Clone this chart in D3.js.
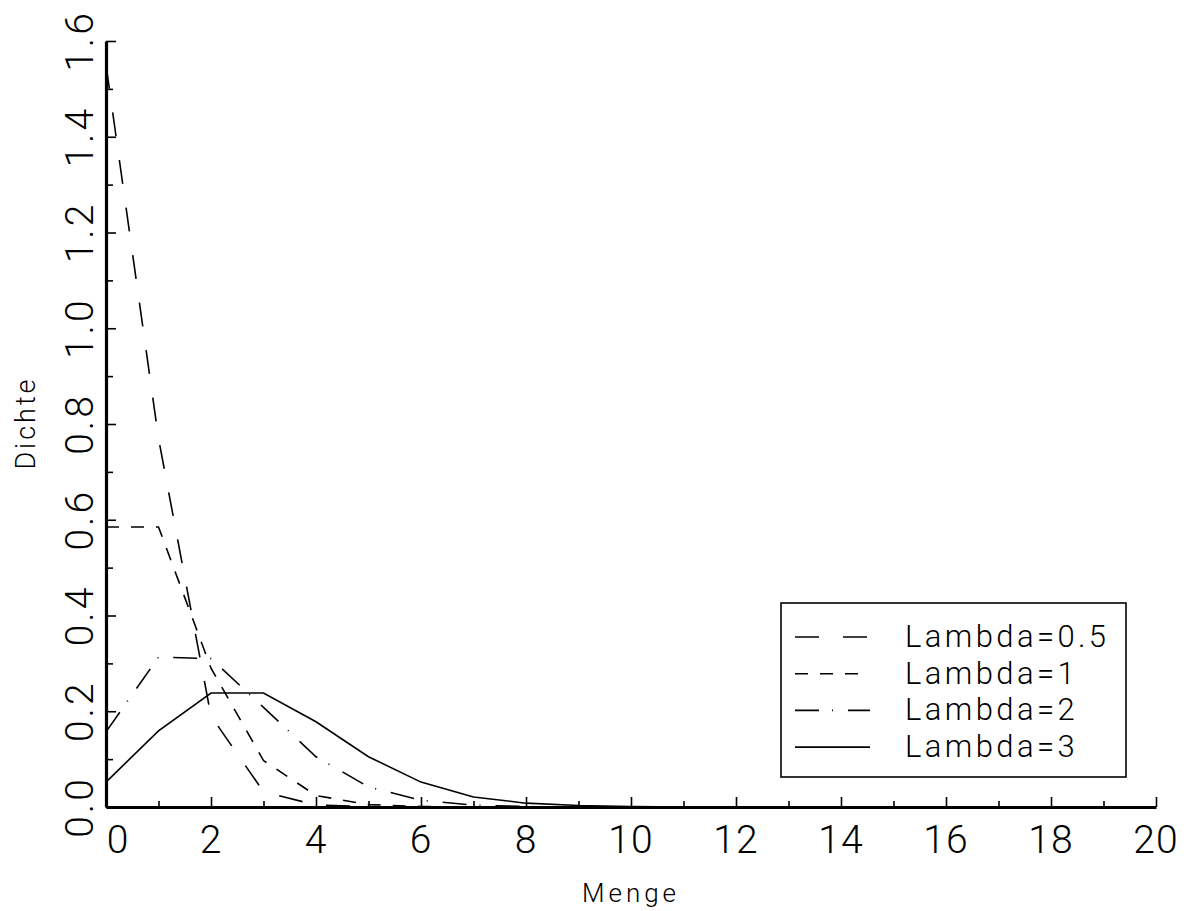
<!DOCTYPE html>
<html>
<head>
<meta charset="utf-8">
<script src="https://cdn.jsdelivr.net/npm/d3@7"></script>
<style>
  html, body { margin: 0; padding: 0; background: #fff; }
  svg text { font-family: Roboto, "Open Sans", sans-serif; font-weight: 300; fill: #000; }
</style>
</head>
<body>
<svg id="chart" width="1188" height="911"></svg>
<script>
// values
const menge = [0, 1, 2, 3, 4, 5, 6, 7, 8, 9, 10, 11, 12, 13, 14, 15, 16, 17, 18, 19, 20];
const lambda05 = [1.55, 0.77, 0.19, 0.032, 0.004, 0.0005, 0, 0, 0, 0, 0, 0, 0, 0, 0, 0, 0, 0, 0, 0, 0];
const lambda1 = [0.585, 0.585, 0.29, 0.097, 0.024, 0.005, 0.001, 0, 0, 0, 0, 0, 0, 0, 0, 0, 0, 0, 0, 0, 0];
const lambda2 = [0.157, 0.313, 0.31, 0.208, 0.105, 0.042, 0.014, 0.004, 0.001, 0, 0, 0, 0, 0, 0, 0, 0, 0, 0, 0, 0];
const lambda3 = [0.052, 0.159, 0.238, 0.238, 0.178, 0.105, 0.052, 0.021, 0.008, 0.003, 0.001, 0, 0, 0, 0, 0, 0, 0, 0, 0, 0];

const seriesNames = ["Lambda=0.5", "Lambda=1", "Lambda=2", "Lambda=3"];
const dashes = ["24,24", "13,12", "24,13,1,15", null];

const xTicks = [0, 2, 4, 6, 8, 10, 12, 14, 16, 18, 20];
const xMinor = [1, 3, 5, 7, 9, 11, 13, 15, 17, 19];
const yTicks = [0, 0.2, 0.4, 0.6, 0.8, 1.0, 1.2, 1.4, 1.6];
const yMinor = [0.1, 0.3, 0.5, 0.7, 0.9, 1.1, 1.3, 1.5];

const svg = d3.select("#chart");

const x = d3.scaleLinear().domain([0, 20]).range([106, 1156]);
const y = d3.scaleLinear().domain([0, 1.6]).range([807, 41]);

// minor ticks first, then major axis on top
svg.append("g")
  .attr("transform", `translate(0,${y(0)})`)
  .call(d3.axisBottom(x).tickValues(xMinor).tickSize(-6).tickSizeOuter(0).tickFormat(""))
  .call(g => g.select(".domain").remove());

svg.append("g")
  .attr("transform", `translate(${x(0)},0)`)
  .call(d3.axisLeft(y).tickValues(yMinor).tickSize(-7).tickSizeOuter(0).tickFormat(""))
  .call(g => g.select(".domain").remove());

const xAxis = svg.append("g")
  .attr("transform", `translate(0,${y(0)})`)
  .call(d3.axisBottom(x).tickValues(xTicks).tickSize(-10).tickSizeOuter(0).tickFormat(""));

const yAxis = svg.append("g")
  .attr("transform", `translate(${x(0)},0)`)
  .call(d3.axisLeft(y).tickValues(yTicks).tickSize(-10).tickSizeOuter(0).tickFormat(""));

svg.selectAll(".tick line").attr("stroke", "#000").attr("stroke-width", 1.6);
[xAxis, yAxis].forEach(a => a.select(".domain").attr("stroke", "#000").attr("stroke-width", 3.2));

// tick labels
svg.append("g").selectAll("text")
  .data(xTicks)
  .join("text")
  .attr("x", d => x(d) + (d === 0 ? 12 : 0))
  .attr("y", 853)
  .attr("text-anchor", "middle")
  .attr("font-size", 39)
  .attr("letter-spacing", 1)
  .text(d => d);

svg.append("g").selectAll("text")
  .data(yTicks)
  .join("text")
  .attr("transform", d => `translate(93,${y(d)}) rotate(-90)`)
  .attr("text-anchor", "middle")
  .attr("font-size", 39)
  .attr("letter-spacing", 3)
  .text(d => d3.format(".1f")(d));

// axis titles
svg.append("text")
  .attr("x", 631)
  .attr("y", 902)
  .attr("text-anchor", "middle")
  .attr("font-size", 26)
  .attr("letter-spacing", 4)
  .text("Menge");

svg.append("text")
  .attr("transform", "translate(35,423) rotate(-90)")
  .attr("text-anchor", "middle")
  .attr("font-size", 27)
  .attr("letter-spacing", 3)
  .text("Dichte");

// lines
const allSeries = [lambda05, lambda1, lambda2, lambda3];
const line = d3.line().x((d, i) => x(menge[i])).y(d => y(d));

svg.append("g").selectAll("path")
  .data(allSeries)
  .join("path")
  .attr("d", d => line(d))
  .attr("fill", "none")
  .attr("stroke", "#000")
  .attr("stroke-width", 1.6)
  .attr("stroke-dasharray", (d, i) => dashes[i]);

// legend
const legend = svg.append("g");
legend.append("rect")
  .attr("x", 781).attr("y", 603)
  .attr("width", 345).attr("height", 174)
  .attr("fill", "#fff")
  .attr("stroke", "#000")
  .attr("stroke-width", 1.6);

const rows = legend.selectAll("g.row")
  .data(seriesNames)
  .join("g")
  .attr("class", "row")
  .attr("transform", (d, i) => `translate(0,${647 + i * 36.7})`);

rows.append("line")
  .attr("x1", 795).attr("x2", 870)
  .attr("y1", -10).attr("y2", -10)
  .attr("stroke", "#000")
  .attr("stroke-width", 1.6)
  .attr("stroke-dasharray", (d, i) => dashes[i]);

rows.append("text")
  .attr("x", 905)
  .attr("y", 0)
  .attr("font-size", 31)
  .attr("letter-spacing", 3.4)
  .text(d => d);
</script>
</body>
</html>
